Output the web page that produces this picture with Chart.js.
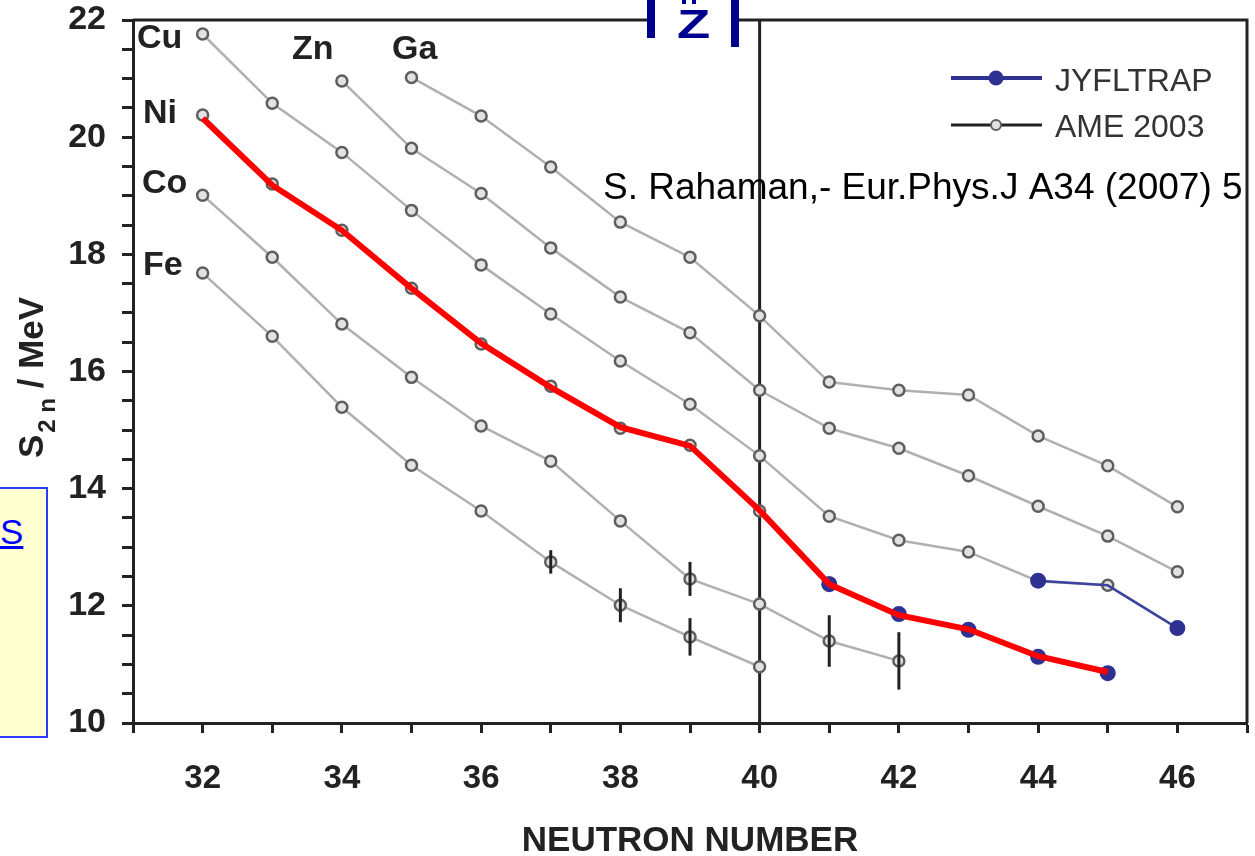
<!DOCTYPE html>
<html>
<head>
<meta charset="utf-8">
<title>S2n vs neutron number</title>
<script src="https://cdn.jsdelivr.net/npm/chart.js@4.4.1/dist/chart.umd.min.js"></script>
<style>
  html, body { margin: 0; padding: 0; background: #fff; }
  #wrap { position: relative; width: 1255px; height: 856px; overflow: hidden; }
  #s2nChart { position: absolute; left: 0; top: 0; }
  .note-box {
    position: absolute; left: -10px; top: 487px; width: 58px; height: 251px;
    box-sizing: border-box; background: #ffffd2; border: 2px solid #2a3cff;
  }
  .note-box a {
    position: absolute; left: 8px; top: 25px;
    font: 35px/35px "Liberation Sans", Arial, sans-serif;
    color: #0000ff; text-decoration: underline; text-decoration-thickness: 3px;
  }
</style>
</head>
<body>
<div id="wrap">
  <canvas id="s2nChart" width="1255" height="856"></canvas>
  <div class="note-box"><a href="#">S</a></div>
</div>
<script>
const neutronNumbers = [32, 33, 34, 35, 36, 37, 38, 39, 40, 41, 42, 43, 44, 45, 46];

// AME 2003 two-neutron separation energies (MeV), one entry per neutron number
const ameGa = [null, null, null, 21.02, 20.36, 19.49, 18.55, 17.95, 16.95, 15.82, 15.68, 15.60, 14.90, 14.39, 13.69];
const ameZn = [null, null, 20.96, 19.81, 19.04, 18.11, 17.27, 16.66, 15.68, 15.03, 14.69, 14.22, 13.70, 13.19, 12.58];
const ameCu = [21.76, 20.58, 19.74, 18.75, 17.82, 16.98, 16.18, 15.44, 14.56, 13.53, 13.12, 12.92, 12.42, 12.35, null];
const ameNi = [20.38, 19.20, 18.41, 17.42, 16.47, 15.75, 15.03, 14.74, 13.62, 12.39, null, null, null, null, null];
const ameCo = [19.01, 17.95, 16.81, 15.90, 15.07, 14.47, 13.45, 12.46, 12.03, 11.40, 11.06, null, null, null, null];
const ameFe = [17.68, 16.60, 15.39, 14.40, 13.62, 12.75, 12.01, 11.47, 10.96, null, null, null, null, null, null];

const errCo = [null, null, null, null, null, null, null, 0.29, null, 0.44, 0.49, null, null, null, null];
const errFe = [null, null, null, null, null, 0.20, 0.29, 0.32, null, null, null, null, null, null, null];

// JYFLTRAP measurements
const jyflNi = [null, null, null, null, null, null, null, null, null, 12.37, 11.86, 11.59, 11.13, 10.85, null];
const jyflCu = [null, null, null, null, null, null, null, null, null, null, null, null, 12.43, null, 11.62];
const jyflCuLine = [null, null, null, null, null, null, null, null, null, null, null, null, 12.43, 12.35, 11.62];

// red line drawn over the Ni chain
const highlightNi = [20.32, 19.18, 18.41, 17.42, 16.48, 15.73, 15.05, 14.73, 13.63, 12.37, 11.84, 11.60, 11.14, 10.87, null];

const elementLabels = [
  { text: 'Cu', x: 137, y: 48 },
  { text: 'Ni', x: 143, y: 123 },
  { text: 'Co', x: 142, y: 193 },
  { text: 'Fe', x: 143, y: 275 },
  { text: 'Zn', x: 292, y: 59 },
  { text: 'Ga', x: 392, y: 59 }
];

const yTickLabels = [10, 12, 14, 16, 18, 20, 22];
const xTickLabels = [32, 34, 36, 38, 40, 42, 44, 46];

const jyflColor = '#2e3192';
const ameLine = '#b0b0b0';
const axisColor = '#222';
const sans = '"Liberation Sans", Arial, sans-serif';

function toPoints(values) {
  return neutronNumbers.map((n, i) => ({ x: n, y: values[i] }));
}

function ameDataset(label, values) {
  return {
    label: label,
    data: toPoints(values),
    borderColor: ameLine,
    borderWidth: 2.5,
    pointRadius: 5.5,
    pointBorderWidth: 2.5,
    pointBorderColor: '#5e5e5e',
    pointBackgroundColor: '#e2e2e2',
    order: 3
  };
}

function drawErrorBars(chart, values, errors) {
  const { ctx, scales } = chart;
  ctx.save();
  ctx.strokeStyle = axisColor;
  ctx.lineWidth = 3;
  errors.forEach((err, i) => {
    if (err == null) return;
    const x = scales.x.getPixelForValue(neutronNumbers[i]);
    ctx.beginPath();
    ctx.moveTo(x, scales.y.getPixelForValue(values[i] + err));
    ctx.lineTo(x, scales.y.getPixelForValue(values[i] - err));
    ctx.stroke();
  });
  ctx.restore();
}

function drawYTitle(ctx) {
  ctx.save();
  ctx.translate(43, 458);
  ctx.rotate(-Math.PI / 2);
  ctx.fillStyle = axisColor;
  ctx.textBaseline = 'alphabetic';
  ctx.font = 'bold 35px ' + sans;
  ctx.fillText('S', 0, 0);
  let x = ctx.measureText('S').width + 2;
  ctx.font = 'bold 24px ' + sans;
  ctx.fillText('2 n', x, 12);
  x += ctx.measureText('2 n').width;
  ctx.font = 'bold 35px ' + sans;
  ctx.fillText(' / MeV', x, 0);
  ctx.restore();
}

function drawLegend(ctx) {
  ctx.save();
  ctx.lineWidth = 4;
  ctx.strokeStyle = jyflColor;
  ctx.beginPath(); ctx.moveTo(951, 78); ctx.lineTo(1042, 78); ctx.stroke();
  ctx.fillStyle = jyflColor;
  ctx.beginPath(); ctx.arc(996, 78, 7.5, 0, Math.PI * 2); ctx.fill();

  ctx.lineWidth = 3;
  ctx.strokeStyle = axisColor;
  ctx.beginPath(); ctx.moveTo(951, 125); ctx.lineTo(1042, 125); ctx.stroke();
  ctx.fillStyle = '#e2e2e2';
  ctx.strokeStyle = '#5e5e5e';
  ctx.lineWidth = 2;
  ctx.beginPath(); ctx.arc(996, 125, 5, 0, Math.PI * 2); ctx.fill(); ctx.stroke();

  ctx.fillStyle = '#333';
  ctx.font = '32px ' + sans;
  ctx.textBaseline = 'alphabetic';
  ctx.fillText('JYFLTRAP', 1055, 91);
  ctx.fillText('AME 2003', 1055, 137);
  ctx.restore();
}

function drawZMark(ctx) {
  ctx.save();
  ctx.fillStyle = '#fff';
  ctx.fillRect(655, 0, 76, 40);
  ctx.fillStyle = '#00008f';
  ctx.fillRect(647, 0, 8, 38);
  ctx.fillRect(731, 0, 8, 47);
  ctx.fillRect(682, 0, 4, 4);
  ctx.fillRect(692, 0, 4, 4);
  ctx.translate(677, 38);
  ctx.scale(1.36, 1);
  ctx.font = 'bold 40px ' + sans;
  ctx.textBaseline = 'alphabetic';
  ctx.fillText('Z', 0, 0);
  ctx.restore();
}

const decorPlugin = {
  id: 'decor',
  beforeDatasetsDraw(chart) {
    const { ctx, chartArea, scales } = chart;
    const x40 = scales.x.getPixelForValue(40);
    ctx.save();
    ctx.strokeStyle = axisColor;
    ctx.lineWidth = 3;
    ctx.beginPath();
    ctx.moveTo(x40, chartArea.top);
    ctx.lineTo(x40, chartArea.bottom);
    ctx.stroke();
    ctx.restore();
  },
  afterDatasetsDraw(chart) {
    drawErrorBars(chart, ameCo, errCo);
    drawErrorBars(chart, ameFe, errFe);
  },
  afterDraw(chart) {
    const { ctx, chartArea } = chart;
    ctx.save();

    // citation, clipped at the frame
    ctx.save();
    ctx.beginPath();
    ctx.rect(0, 0, chartArea.right - 2, 856);
    ctx.clip();
    ctx.fillStyle = '#000';
    ctx.font = '37px ' + sans;
    ctx.fillText('S. Rahaman,- Eur.Phys.J A34 (2007) 5', 603, 199);
    ctx.restore();

    // top and right frame
    ctx.strokeStyle = axisColor;
    ctx.lineWidth = 3;
    ctx.beginPath();
    ctx.moveTo(chartArea.left, chartArea.top);
    ctx.lineTo(chartArea.right, chartArea.top);
    ctx.lineTo(chartArea.right, chartArea.bottom);
    ctx.stroke();

    ctx.fillStyle = axisColor;
    ctx.font = 'bold 34px ' + sans;
    elementLabels.forEach(l => ctx.fillText(l.text, l.x, l.y));
    ctx.restore();

    drawLegend(ctx);
    drawYTitle(ctx);
    drawZMark(ctx);
  }
};

new Chart(document.getElementById('s2nChart'), {
  type: 'line',
  data: {
    datasets: [
      {
        label: 'Ni',
        data: toPoints(highlightNi),
        borderColor: '#ff0000',
        borderWidth: 6,
        pointRadius: 0,
        order: 0
      },
      {
        label: 'JYFLTRAP Ni',
        data: toPoints(jyflNi),
        showLine: false,
        pointRadius: 8,
        pointBorderWidth: 0,
        pointBackgroundColor: jyflColor,
        order: 1
      },
      {
        label: 'JYFLTRAP Cu',
        data: toPoints(jyflCu),
        showLine: false,
        pointRadius: 8,
        pointBorderWidth: 0,
        pointBackgroundColor: jyflColor,
        order: 1
      },
      {
        label: 'JYFLTRAP Cu line',
        data: toPoints(jyflCuLine),
        borderColor: '#3d429c',
        borderWidth: 2.5,
        pointRadius: 0,
        order: 2
      },
      ameDataset('Ga', ameGa),
      ameDataset('Zn', ameZn),
      ameDataset('Cu', ameCu),
      ameDataset('Ni AME', ameNi),
      ameDataset('Co', ameCo),
      ameDataset('Fe', ameFe)
    ]
  },
  options: {
    responsive: false,
    devicePixelRatio: 1,
    animation: false,
    events: [],
    layout: { padding: { top: 20, right: 5, left: 0, bottom: 0 } },
    plugins: {
      legend: { display: false },
      tooltip: { enabled: false }
    },
    scales: {
      x: {
        type: 'linear',
        min: 31,
        max: 47,
        afterFit: scale => {
          scale.height = 133;
          scale.paddingLeft = 0;
          scale.paddingRight = 0;
        },
        grid: { drawOnChartArea: false, drawTicks: true, tickLength: 10, tickWidth: 3, tickColor: axisColor },
        border: { display: true, color: axisColor, width: 3 },
        ticks: {
          stepSize: 1,
          autoSkip: false,
          maxRotation: 0,
          padding: 29,
          color: axisColor,
          font: { family: sans, size: 33, weight: 'bold', lineHeight: 1 },
          callback: v => xTickLabels.includes(v) ? String(v) : ''
        },
        title: {
          display: true,
          text: 'NEUTRON NUMBER',
          color: axisColor,
          padding: { top: 0, bottom: -3 },
          font: { family: sans, size: 35, weight: 'bold', lineHeight: 1 }
        }
      },
      y: {
        type: 'linear',
        min: 10,
        max: 22,
        afterFit: scale => {
          scale.width = 133;
          scale.paddingTop = 0;
          scale.paddingBottom = 0;
        },
        grid: { drawOnChartArea: false, drawTicks: true, tickLength: 11, tickWidth: 3, tickColor: axisColor },
        border: { display: true, color: axisColor, width: 3 },
        ticks: {
          stepSize: 0.5,
          autoSkip: false,
          padding: 16,
          color: axisColor,
          font: { family: sans, size: 34, weight: 'bold', lineHeight: 1 },
          callback: v => yTickLabels.includes(v) ? String(v) : ''
        }
      }
    }
  },
  plugins: [decorPlugin]
});
</script>
</body>
</html>
